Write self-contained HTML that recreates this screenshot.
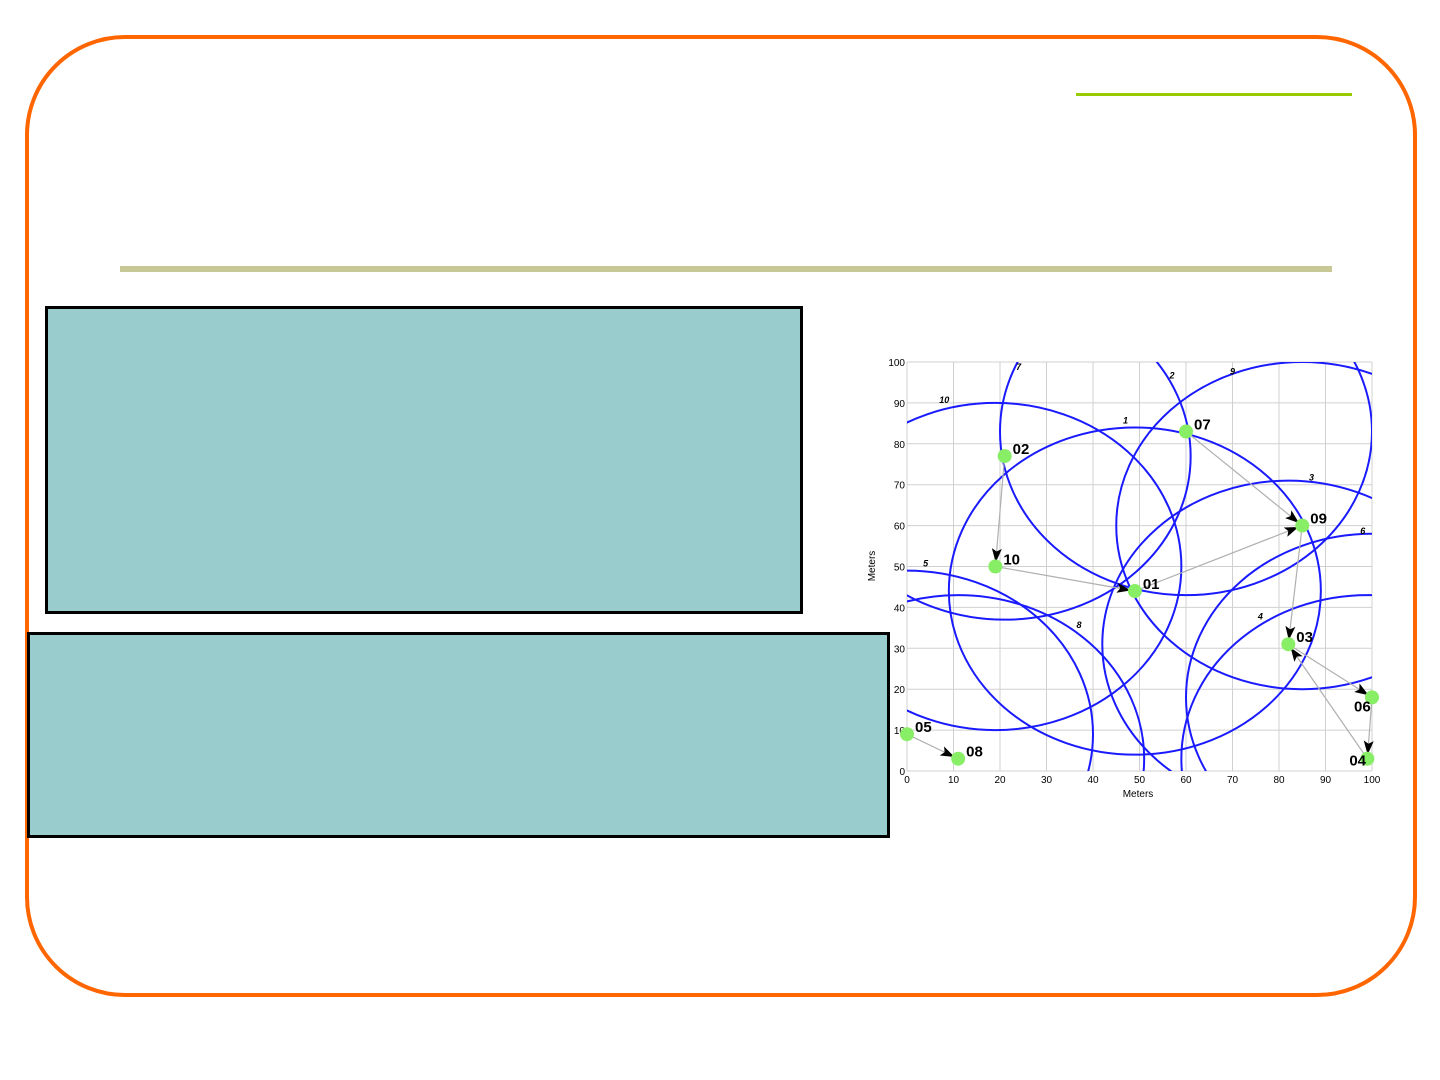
<!DOCTYPE html>
<html><head><meta charset="utf-8">
<style>
html,body{margin:0;padding:0;background:#fff;}
body{width:1440px;height:1080px;position:relative;overflow:hidden;font-family:"Liberation Sans",sans-serif;}
.abs{position:absolute;box-sizing:border-box;}
</style></head>
<body>
<div class="abs" style="left:25px;top:35px;width:1392px;height:962px;border:4px solid #ff6600;border-radius:100px;"></div>
<div class="abs" style="left:1076px;top:93px;width:276px;height:3px;background:#99cc00;"></div>
<div class="abs" style="left:120px;top:266px;width:1212px;height:6px;background:#c8c896;"></div>
<div class="abs" style="left:45px;top:306px;width:758px;height:308px;background:#99cccc;border:3px solid #000;"></div>
<div class="abs" style="left:27px;top:632px;width:863px;height:206px;background:#99cccc;border:3px solid #000;"></div>
<svg class="abs" style="left:0;top:0" width="1440" height="1080" id="chart">
<defs>
<clipPath id="plotclip"><rect x="907" y="362" width="465" height="409"/></clipPath>
<marker id="ah" markerWidth="14" markerHeight="10" refX="12" refY="5" orient="auto" markerUnits="userSpaceOnUse"><path d="M0,0 L14,5 L0,10 L3,5 Z" fill="#000"/></marker>
</defs>
</svg>
<script>
const nodeIds=['01','02','03','04','05','06','07','08','09','10'];
const nodeX=[49,21,82,99,0,100,60,11,85,19];
const nodeY=[44,77,31,3,9,18,83,3,60,50];
const radii=[40,40,40,40,40,40,40,40,40,40];
const circleLabelX=[47,57,87,76,4,98,24,37,70,8];
const circleLabelY=[85,96,71,37,50,58,98,35,97,90];
const linkFrom=['02','10','05','07','01','09','03','06','04'];
const linkTo=['10','01','08','09','09','03','06','04','03'];
const xTicks=[0,10,20,30,40,50,60,70,80,90,100];
const yTicks=[0,10,20,30,40,50,60,70,80,90,100];
const X0=907,X1=1372,Y0=771,Y1=362;
const sx=v=>X0+(X1-X0)*v/100;
const sy=v=>Y0-(Y0-Y1)*v/100;
const NS='http://www.w3.org/2000/svg';
const svg=document.getElementById('chart');
function mk(t,a){const e=document.createElementNS(NS,t);for(const k in a)e.setAttribute(k,a[k]);svg.appendChild(e);return e;}
xTicks.forEach(v=>{
  const l=mk('line',{x1:sx(v),x2:sx(v),y1:Y1,y2:Y0,stroke:'#d0d0d0','stroke-width':1});
  
  
  const t=mk('text',{x:sx(v),y:Y0+12,'font-size':10,'text-anchor':'middle',fill:'#000'});t.textContent=v;
  
  
});
yTicks.forEach(v=>{
  const l=mk('line',{x1:X0,x2:X1,y1:sy(v),y2:sy(v),stroke:'#d0d0d0','stroke-width':1});
  
  
  const t=mk('text',{x:X0-2,y:sy(v)+4,'font-size':10,'text-anchor':'end',fill:'#000'});t.textContent=v;
  
  
});
const xt=mk('text',{x:1138,y:797,'font-size':10,'text-anchor':'middle'});xt.textContent='Meters';


const yt=mk('text',{x:875,y:566,'font-size':10,'text-anchor':'middle',transform:'rotate(-90 875 566)'});yt.textContent='Meters';


const g=mk('g',{'clip-path':'url(#plotclip)'});
nodeX.forEach((x,i)=>{
  const e=document.createElementNS(NS,'ellipse');
  e.setAttribute('cx',sx(x));e.setAttribute('cy',sy(nodeY[i]));
  e.setAttribute('rx',(X1-X0)*radii[i]/100);e.setAttribute('ry',(Y0-Y1)*radii[i]/100);
  e.setAttribute('fill','none');e.setAttribute('stroke','#1a1aff');e.setAttribute('stroke-width',2);
  
  
  g.appendChild(e);
  const t=mk('text',{x:sx(circleLabelX[i]),y:sy(circleLabelY[i]),'font-size':9,'font-style':'italic','font-weight':'bold','text-anchor':'middle'});
  t.textContent=String(i+1);
  
  
});
linkFrom.forEach((f,i)=>{
  const a=nodeIds.indexOf(f),b=nodeIds.indexOf(linkTo[i]);
  const x1=sx(nodeX[a]),y1=sy(nodeY[a]),x2=sx(nodeX[b]),y2=sy(nodeY[b]);
  const d=Math.hypot(x2-x1,y2-y1),k=(d-6)/d;
  const l=mk('line',{x1:x1,y1:y1,x2:x1+(x2-x1)*k,y2:y1+(y2-y1)*k,stroke:'#b0b0b0','stroke-width':1.2,'marker-end':'url(#ah)'});
  
  
});
nodeX.forEach((x,i)=>{
  const c=mk('circle',{cx:sx(x),cy:sy(nodeY[i]),r:7,fill:'#88ee66'});
  
  
  let lx=sx(x)+8,ly=sy(nodeY[i])-2;
  if(nodeIds[i]==='06'){lx=sx(x)-18;ly=sy(nodeY[i])+14;}
  if(nodeIds[i]==='04'){lx=sx(x)-18;ly=sy(nodeY[i])+7;}
  const t=mk('text',{x:lx,y:ly,'font-size':15,'font-weight':'bold'});
  t.textContent=nodeIds[i];
  
  
});
</script>
</body></html>
